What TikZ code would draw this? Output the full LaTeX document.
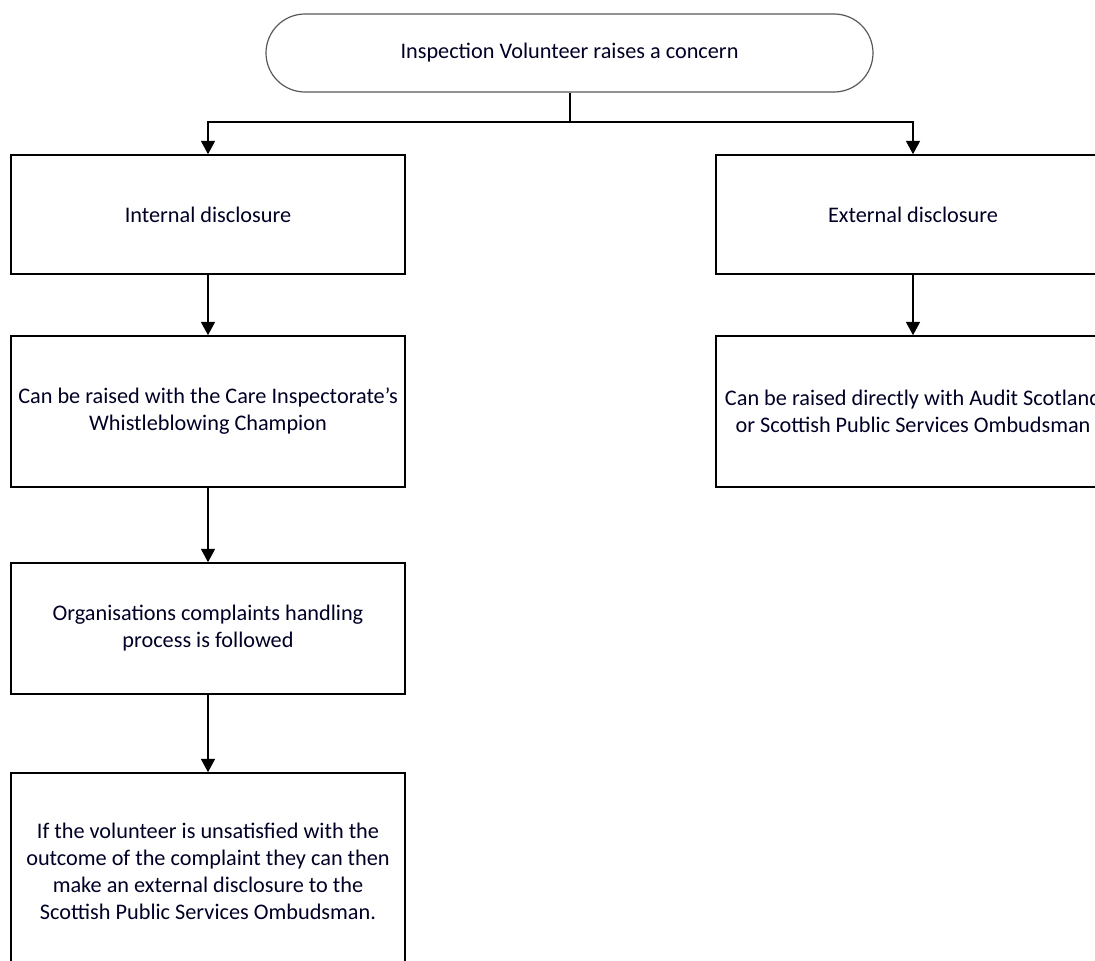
\documentclass[tikz,border=0pt]{standalone}
\usepackage{fontspec}
\setmainfont{Carlito}
\usetikzlibrary{arrows.meta,shapes.misc}
\begin{document}
\begin{tikzpicture}[x=0.75pt,y=-0.75pt,
  txt/.style={font=\fontsize{16.7pt}{20.25pt}\selectfont, text=black!85!blue, align=center},
  box/.style={txt, draw=black, line width=1.2pt, rectangle, inner sep=0pt, minimum width=295.5pt},
  term/.style={txt, draw=black!65, line width=0.9pt, rounded rectangle, inner sep=0pt, minimum width=455.25pt, minimum height=58.5pt},
  conn/.style={line width=1.2pt, black},
  arr/.style={conn, -{Triangle[width=10.5pt,length=10pt]}}]
\useasboundingbox (0,0) rectangle (1095,960);
\fill[white] (0,0) rectangle (1095,960);
\node[term] (top) at (569.5,53) {Inspection Volunteer raises a concern};
\node[box, minimum height=89.25pt] (int1) at (208,214.5) {Internal disclosure};
\node[box, minimum height=89.25pt] (ext1) at (913,214.5) {External disclosure};
\node[box, minimum height=113.25pt] (int2) at (208,411.5) {Can be raised with the Care Inspectorate's\\Whistleblowing Champion};
\node[box, minimum height=113.25pt] (ext2) at (913,411.5) {Can be raised directly with Audit Scotland\\or Scottish Public Services Ombudsman};
\node[box, minimum height=98.25pt] (int3) at (208,628.5) {Organisations complaints handling\\process is followed};
\node[box, minimum height=147pt] (int4) at (208,871) {If the volunteer is unsatisfied with the\\outcome of the complaint they can then\\make an external disclosure to the\\Scottish Public Services Ombudsman.};
\coordinate (split) at (570,122);
\draw[conn] (top.south -| split) -- (split);
\draw[arr] (split) -| (int1.north);
\draw[arr] (split) -| (ext1.north);
\draw[arr] (int1) -- (int2);
\draw[arr] (ext1) -- (ext2);
\draw[arr] (int2) -- (int3);
\draw[arr] (int3) -- (int4);
\end{tikzpicture}
\end{document}
